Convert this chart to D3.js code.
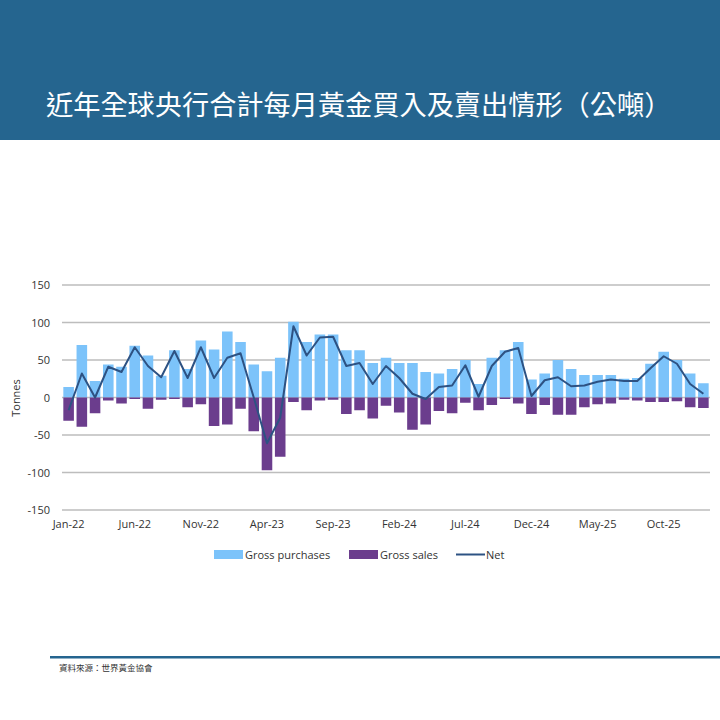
<!DOCTYPE html>
<html><head><meta charset="utf-8">
<script src="https://cdn.jsdelivr.net/npm/d3@7/dist/d3.min.js"></script>
<style>body{margin:0;background:#fff}svg{display:block}</style>
</head><body><svg id="c" width="720" height="720"></svg>
<script>
const months = ["Jan-22","Feb-22","Mar-22","Apr-22","May-22","Jun-22","Jul-22","Aug-22","Sep-22","Oct-22","Nov-22","Dec-22",
"Jan-23","Feb-23","Mar-23","Apr-23","May-23","Jun-23","Jul-23","Aug-23","Sep-23","Oct-23","Nov-23","Dec-23",
"Jan-24","Feb-24","Mar-24","Apr-24","May-24","Jun-24","Jul-24","Aug-24","Sep-24","Oct-24","Nov-24","Dec-24",
"Jan-25","Feb-25","Mar-25","Apr-25","May-25","Jun-25","Jul-25","Aug-25","Sep-25","Oct-25","Nov-25","Dec-25","Jan-26"];
const grossPurchases = [14,70,22,44,41,69,56,29,63,38,76,64,88,74,44,35,53,101,74,84,84,63,63,46,53,46,46,34,32,38,50,18,53,63,74,24,32,50,38,30,30,30,25,26,45,61,50,32,19];
const grossSales = [-31,-39,-21,-4,-8,-2,-15,-3,-2,-13,-9,-38,-36,-15,-45,-97,-79,-6,-17,-4,-3,-22,-17,-28,-11,-20,-43,-36,-18,-21,-7,-17,-10,-2,-8,-22,-10,-23,-23,-13,-9,-8,-3,-4,-6,-6,-5,-13,-14];
const net = [-17,32,0,41,34,67,42,27,62,26,67,26,53,59,0,-61,-27,95,56,80,81,42,46,18,42,26,5,-2,14,16,43,1,42,61,66,2,23,27,15,16,21,24,22,22,39,55,45,18,5];
const yTicks = [-150,-100,-50,0,50,100,150];
const tickMonths = ["Jan-22","Jun-22","Nov-22","Apr-23","Sep-23","Feb-24","Jul-24","Dec-24","May-25","Oct-25"];

const svg = d3.select("#c");
const font = "'Open Sans', 'Noto Sans', sans-serif";

// header
svg.append("rect").attr("x",0).attr("y",0).attr("width",720).attr("height",140).attr("fill","#25658f");
svg.append("text").attr("x",46).attr("y",115).attr("fill","#fff")
  .attr("font-family","'Noto Sans CJK TC', sans-serif").attr("font-size",27.2)
  .text("近年全球央行合計每月黃金買入及賣出情形（公噸）");

const x = d3.scaleBand().domain(months).range([62,710]).paddingInner(0.2).paddingOuter(0.1);
const y = d3.scaleLinear().domain([-150,150]).range([510,285]);

// grid
svg.append("g").selectAll("line").data(yTicks).join("line")
  .attr("x1",62).attr("x2",710).attr("y1",d=>y(d)).attr("y2",d=>y(d))
  .attr("stroke","#bdbdbd").attr("stroke-width",1.3);

// y axis labels
const yAxis = svg.append("g").attr("transform","translate(62,0)")
  .call(d3.axisLeft(y).tickValues(yTicks).tickFormat(d=>String(d)).tickSize(0).tickPadding(12));
yAxis.select(".domain").remove();
yAxis.selectAll("text").attr("font-family",font).attr("font-size",11).attr("fill","#333");

svg.append("text").attr("transform","translate(20,398) rotate(-90)").attr("text-anchor","middle")
  .attr("font-family",font).attr("font-size",11).attr("fill","#333").text("Tonnes");

// x axis labels
const xAxis = svg.append("g").attr("transform","translate(0,510)")
  .call(d3.axisBottom(x).tickValues(tickMonths).tickSize(0).tickPadding(10));
xAxis.select(".domain").remove();
xAxis.selectAll("text").attr("font-family",font).attr("font-size",11).attr("fill","#333");

// bars
svg.append("g").selectAll("rect").data(months).join("rect")
  .attr("x",d=>x(d)).attr("width",x.bandwidth())
  .attr("y",(d,i)=>y(grossPurchases[i])).attr("height",(d,i)=>y(0)-y(grossPurchases[i]))
  .attr("fill","#7cc3fa");
svg.append("g").selectAll("rect").data(months).join("rect")
  .attr("x",d=>x(d)).attr("width",x.bandwidth())
  .attr("y",y(0)).attr("height",(d,i)=>y(grossSales[i])-y(0))
  .attr("fill","#6b3d8d");

// net line
const line = d3.line().x((d,i)=>x(months[i])+x.bandwidth()/2).y(d=>y(d));
svg.append("path").datum(net).attr("d",line).attr("fill","none")
  .attr("stroke","#2d5283").attr("stroke-width",2).attr("stroke-linejoin","round");

// legend
const lg = svg.append("g").attr("font-family",font).attr("font-size",11).attr("fill","#333");
lg.append("rect").attr("x",214).attr("y",550).attr("width",29).attr("height",9).attr("fill","#7cc3fa");
lg.append("text").attr("x",245).attr("y",558.5).text("Gross purchases");
lg.append("rect").attr("x",349).attr("y",550).attr("width",29).attr("height",9).attr("fill","#6b3d8d");
lg.append("text").attr("x",380).attr("y",558.5).text("Gross sales");
lg.append("line").attr("x1",456).attr("x2",485).attr("y1",554.5).attr("y2",554.5).attr("stroke","#2d5283").attr("stroke-width",2);
lg.append("text").attr("x",486).attr("y",558.5).text("Net");

// footer
svg.append("rect").attr("x",50).attr("y",656).attr("width",670).attr("height",2.5).attr("fill","#25658f");
svg.append("text").attr("x",59).attr("y",671).attr("font-family","'Noto Sans CJK TC', sans-serif")
  .attr("font-size",8.5).attr("fill","#333").text("資料來源：世界黃金協會");
</script></body></html>
